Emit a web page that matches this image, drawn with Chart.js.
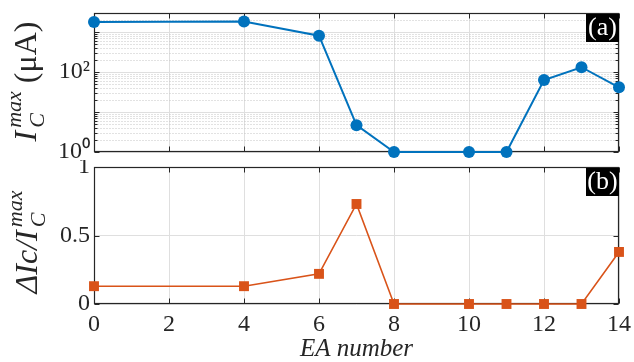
<!DOCTYPE html>
<html>
<head>
<meta charset="utf-8">
<script src="https://cdn.jsdelivr.net/npm/chart.js@4/dist/chart.umd.min.js"></script>
<style>
  html, body { margin: 0; padding: 0; background: #fff; }
  #wrap { position: relative; width: 634px; height: 362px; }
  .panel { position: absolute; left: 0; width: 634px; }
  #panelA { top: 0; height: 160px; }
  #panelB { top: 160px; height: 202px; }
</style>
</head>
<body>
<div id="wrap">
  <div class="panel" id="panelA"><canvas id="chartA"></canvas></div>
  <div class="panel" id="panelB"><canvas id="chartB"></canvas></div>
</div>
<script>
// values
const eaNumber = [0, 4, 6, 7, 8, 10, 11, 12, 13, 14];
const icMax = [1780, 1840, 810, 4.7, 1, 1, 1, 63, 132, 41.5];     // µA
const dIcRatio = [0.13, 0.13, 0.22, 0.73, 0, 0, 0, 0, 0, 0.38];

const xTicks = [0, 2, 4, 6, 8, 10, 12, 14];
const topTickValues = [1, 100];
const topTickLabels = ['10⁰', '10²'];
const bottomTickValues = [0, 0.5, 1];
const bottomTickLabels = ['0', '0.5', '1'];

const serif = '"Liberation Serif", "Times New Roman", serif';
const axisColor = '#262626';
const gridColor = '#dfdfdf';
const minorGridColor = '#c4c4c4';
const blue = '#0072BD';
const orange = '#D95319';

// 1..9 x 10^k between min and max, powers of ten marked major
function logTicks(min, max) {
  const out = [];
  for (let e = 0; Math.pow(10, e) <= max; e++) {
    for (let m = 1; m < 10; m++) {
      const v = m * Math.pow(10, e);
      if (v >= min && v <= max) out.push({ value: v, major: m === 1 });
    }
  }
  return out;
}

function fixWidth(w) {
  return (scale) => {
    scale.width = w;
    scale.paddingTop = 0;
    scale.paddingBottom = 0;
  };
}
function fixHeight(h) {
  return (scale) => {
    scale.height = h;
    scale.paddingLeft = 0;
    scale.paddingRight = 0;
  };
}

// box, inward ticks and dotted minor grid, drawn under the data like matlab
const framePlugin = {
  id: 'frame',
  beforeDatasetsDraw(chart) {
    const { ctx, chartArea: a, scales } = chart;
    const x = scales.x, y = scales.y;
    const L = Math.round(a.left) + 0.5, R = Math.round(a.right) - 0.5;
    const T = Math.round(a.top) + 0.5, B = Math.round(a.bottom) - 0.5;
    ctx.save();
    ctx.lineWidth = 1;
    if (y.type === 'logarithmic') {
      ctx.strokeStyle = minorGridColor;
      ctx.setLineDash([1, 2]);
      y.ticks.forEach(t => {
        if (t.major) return;
        const py = Math.round(y.getPixelForValue(t.value)) + 0.5;
        ctx.beginPath(); ctx.moveTo(L, py); ctx.lineTo(R, py); ctx.stroke();
      });
      ctx.setLineDash([]);
    }
    ctx.strokeStyle = axisColor;
    ctx.beginPath();
    x.ticks.forEach(t => {
      const px = Math.round(x.getPixelForValue(t.value)) + 0.5;
      ctx.moveTo(px, B); ctx.lineTo(px, B - 5);
      ctx.moveTo(px, T); ctx.lineTo(px, T + 5);
    });
    y.ticks.forEach(t => {
      const py = Math.round(y.getPixelForValue(t.value)) + 0.5;
      const len = (y.type === 'logarithmic' && !t.major) ? 3 : 5;
      ctx.moveTo(L, py); ctx.lineTo(L + len, py);
      ctx.moveTo(R, py); ctx.lineTo(R - len, py);
    });
    ctx.stroke();
    ctx.lineWidth = 1.2;
    ctx.strokeRect(L, T, R - L, B - T);
    ctx.restore();
  }
};

// y title with sub/superscripts, rotated
function yTitlePlugin(spec) {
  return {
    id: 'yTitle',
    afterDraw(chart) {
      const ctx = chart.ctx;
      ctx.save();
      ctx.fillStyle = axisColor;
      ctx.textBaseline = 'alphabetic';
      ctx.textAlign = 'left';
      const widths = spec.parts.map(p => {
        ctx.font = p.font;
        const w = p.text !== undefined
          ? ctx.measureText(p.text).width
          : Math.max(ctx.measureText(p.sub).width, ctx.measureText(p.sup).width);
        return w + (p.gap || 0);
      });
      const total = widths.reduce((s, w) => s + w, 0);
      ctx.translate(spec.x, spec.y);
      ctx.rotate(-Math.PI / 2);
      let pos = -total / 2;
      spec.parts.forEach((p, i) => {
        ctx.font = p.font;
        if (p.text !== undefined) {
          ctx.fillText(p.text, pos, 0);
        } else {
          ctx.fillText(p.sub, pos, p.subDy);
          ctx.fillText(p.sup, pos, p.supDy);
        }
        pos += widths[i];
      });
      ctx.restore();
    }
  };
}

function panelLabelPlugin(label) {
  return {
    id: 'panelLabel',
    afterDraw(chart) {
      const { ctx, chartArea: a } = chart;
      ctx.save();
      ctx.fillStyle = '#000';
      ctx.fillRect(a.right - 33, a.top + 1, 33, 28);
      ctx.fillStyle = '#fff';
      ctx.font = '26px ' + serif;
      ctx.textAlign = 'center';
      ctx.textBaseline = 'middle';
      ctx.fillText(label, a.right - 16.5, a.top + 15);
      ctx.restore();
    }
  };
}

const mainFont = 'italic 32px ' + serif;
const smallFont = 'italic 22px ' + serif;

const xScale = (showLabels, h) => ({
  type: 'linear',
  min: 0,
  max: 14,
  afterBuildTicks: (s) => { s.ticks = xTicks.map(v => ({ value: v })); },
  afterFit: fixHeight(h),
  grid: { color: gridColor, drawTicks: false },
  border: { display: false },
  ticks: {
    display: showLabels,
    autoSkip: false,
    maxRotation: 0,
    padding: 6,
    color: axisColor,
    font: { family: serif, size: 24 }
  },
  title: {
    display: showLabels,
    text: 'EA number',
    color: axisColor,
    font: { family: serif, size: 25, style: 'italic', lineHeight: 1 },
    padding: { top: 0, bottom: 0 }
  }
});

const common = {
  responsive: true,
  maintainAspectRatio: false,
  animation: false,
  events: [],
  plugins: { legend: { display: false }, tooltip: { enabled: false } }
};

new Chart(document.getElementById('chartA').getContext('2d'), {
  type: 'line',
  data: {
    datasets: [{
      data: eaNumber.map((x, i) => ({ x, y: icMax[i] })),
      borderColor: blue,
      backgroundColor: blue,
      borderWidth: 2,
      pointStyle: 'circle',
      pointRadius: 6,
      pointBorderWidth: 0,
      tension: 0,
      clip: false
    }]
  },
  options: {
    ...common,
    layout: { padding: { top: 13, right: 15, left: 0, bottom: 0 } },
    scales: {
      x: xScale(false, 8),
      y: {
        type: 'logarithmic',
        min: 1,
        max: 3000,
        afterBuildTicks: (s) => { s.ticks = logTicks(1, 3000); },
        afterFit: fixWidth(94),
        grid: {
          drawTicks: false,
          color: (c) => (c.tick && c.tick.major) ? gridColor : 'rgba(0,0,0,0)'
        },
        border: { display: false },
        ticks: {
          autoSkip: false,
          padding: 4,
          color: axisColor,
          font: { family: serif, size: 24, lineHeight: 1 },
          callback: (v) => {
            const i = topTickValues.indexOf(v);
            return i >= 0 ? topTickLabels[i] : '';
          }
        }
      }
    }
  },
  plugins: [
    framePlugin,
    panelLabelPlugin('(a)'),
    yTitlePlugin({
      x: 36, y: 81.5,
      parts: [
        { text: 'I', font: mainFont, gap: 3 },
        { sub: 'C', sup: 'max', subDy: 8, supDy: -15, font: smallFont },
        { text: ' (μA)', font: '32px ' + serif }
      ]
    })
  ]
});

new Chart(document.getElementById('chartB').getContext('2d'), {
  type: 'line',
  data: {
    datasets: [{
      data: eaNumber.map((x, i) => ({ x, y: dIcRatio[i] })),
      borderColor: orange,
      backgroundColor: orange,
      borderWidth: 1.6,
      pointStyle: 'rect',
      pointRadius: 7,
      pointBorderWidth: 0,
      tension: 0,
      clip: false
    }]
  },
  options: {
    ...common,
    layout: { padding: { top: 7, right: 15, left: 0, bottom: 0 } },
    scales: {
      x: xScale(true, 58),
      y: {
        type: 'linear',
        min: 0,
        max: 1,
        afterBuildTicks: (s) => { s.ticks = bottomTickValues.map(v => ({ value: v })); },
        afterFit: fixWidth(94),
        grid: { color: gridColor, drawTicks: false },
        border: { display: false },
        ticks: {
          autoSkip: false,
          padding: 4,
          color: axisColor,
          font: { family: serif, size: 24, lineHeight: 1 },
          callback: (v) => {
            const i = bottomTickValues.indexOf(v);
            return i >= 0 ? bottomTickLabels[i] : '';
          }
        }
      }
    }
  },
  plugins: [
    framePlugin,
    panelLabelPlugin('(b)'),
    yTitlePlugin({
      x: 37, y: 82,
      parts: [
        { text: 'ΔIc/I', font: mainFont, gap: 3 },
        { sub: 'C', sup: 'max', subDy: 8, supDy: -15, font: smallFont }
      ]
    })
  ]
});
</script>
</body>
</html>
